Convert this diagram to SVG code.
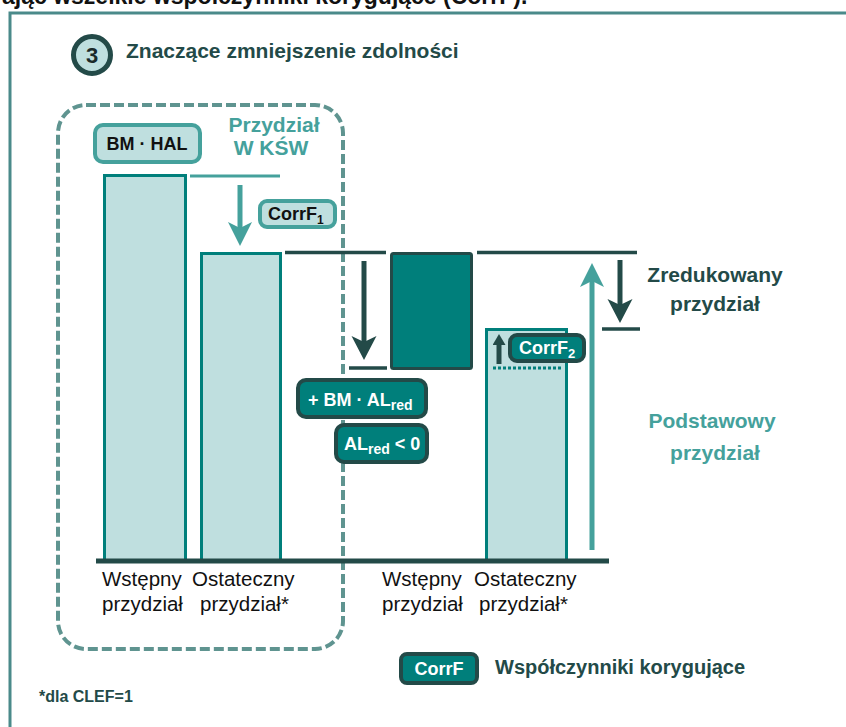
<svg xmlns="http://www.w3.org/2000/svg" width="846" height="727" viewBox="0 0 846 727">
<style>
  text { font-family: "Liberation Sans", Arial, sans-serif; }
  .bold { font-weight: bold; }
  .lbl { font-size: 20.5px; fill: #111111; }
  .bar { fill: #bfdfdf; stroke: #007f7b; stroke-width: 3; }
  .lightbox { fill: #bfdfdf; stroke: #45a19c; stroke-width: 4; }
  .darkbox { fill: #007f7b; stroke: #234a48; stroke-width: 4; }
  .wt { fill: #ffffff; font-weight: bold; font-size: 18px; }
  .kt { fill: #111111; font-weight: bold; font-size: 18px; }
  .darkline { stroke: #234a48; stroke-width: 3.5; fill: none; }
  .tealline { stroke: #45a19c; stroke-width: 3; fill: none; }
  .shaft-dark { stroke: #234a48; stroke-width: 5; fill: none; }
  .shaft-teal { stroke: #45a19c; stroke-width: 5; fill: none; }
  .head-dark { fill: #234a48; }
  .head-teal { fill: #45a19c; }
  .big { font-size: 21px; font-weight: bold; }
</style>
<defs>
  <marker id="mTeal" markerUnits="userSpaceOnUse" markerWidth="26" markerHeight="26" refX="12" refY="12" orient="auto">
    <path class="head-teal" d="M0,0 L24,12 L0,24 L6,12 Z"/>
  </marker>
  <marker id="mDark" markerUnits="userSpaceOnUse" markerWidth="26" markerHeight="26" refX="12" refY="12.5" orient="auto">
    <path class="head-dark" d="M0,0 L24,12.5 L0,25 L6,12.5 Z"/>
  </marker>
  <marker id="mDarkSmall" markerUnits="userSpaceOnUse" markerWidth="14" markerHeight="14" refX="5.5" refY="6.5" orient="auto">
    <path class="head-dark" d="M0,0 L11,6.5 L0,13 Z"/>
  </marker>
</defs>

<rect width="846" height="727" fill="#ffffff"/>

<!-- partially visible caption above frame -->
<text x="2" y="3.5" class="bold" font-size="23" fill="#111111">ając wszelkie współczynniki korygujące (CorrF).</text>

<!-- outer frame -->
<rect x="10" y="13" width="900" height="800" fill="none" stroke="#4a8a8a" stroke-width="3"/>

<!-- title -->
<g id="step3">
  <circle cx="92" cy="55" r="18.5" fill="#bfdfdf" stroke="#234a48" stroke-width="5"/>
  <text x="92" y="63" text-anchor="middle" class="bold" font-size="22" fill="#1a2a2a">3</text>
  <text x="126" y="58" class="big" fill="#234a48">Znaczące zmniejszenie zdolności</text>
</g>

<!-- dashed group box (KŚW) -->
<g id="ksw-region">
  <rect x="58" y="105" width="285" height="544" rx="28" fill="none" stroke="#5f9490" stroke-width="4" stroke-dasharray="10 4"/>
</g>

<!-- bars -->
<g id="bar-wstepny-1"><rect class="bar" x="104.5" y="175.5" width="81" height="386"/></g>
<g id="bar-ostateczny-1"><rect class="bar" x="201.5" y="253.5" width="79" height="308"/></g>
<g id="bar-ostateczny-2">
  <rect class="bar" x="486.5" y="329.5" width="80" height="232" stroke="#2a8f8b"/>
  <line x1="493" y1="368" x2="563" y2="368" stroke="#007f7b" stroke-width="3" stroke-dasharray="3 2"/>
</g>
<g id="reduction-block"><rect x="391.5" y="253.5" width="80" height="115" rx="2" fill="#007f7b" stroke="#234a48" stroke-width="3"/></g>

<!-- connectors -->
<g id="connectors">
  <line class="tealline" x1="190" y1="176" x2="280" y2="176"/>
  <line class="darkline" x1="285" y1="252.5" x2="386" y2="252.5"/>
  <line class="darkline" x1="477" y1="252.5" x2="637" y2="252.5"/>
  <line class="darkline" x1="349" y1="368" x2="387" y2="368"/>
  <line class="darkline" x1="602" y1="329" x2="640" y2="329"/>
  <line class="shaft-teal" x1="240" y1="185" x2="240" y2="234" marker-end="url(#mTeal)"/>
  <line class="shaft-dark" x1="364" y1="261" x2="364" y2="348" marker-end="url(#mDark)"/>
  <line class="shaft-dark" x1="620" y1="260" x2="620" y2="311" marker-end="url(#mDark)"/>
  <line class="shaft-teal" x1="592" y1="550" x2="592" y2="275" marker-end="url(#mTeal)"/>
  <line class="shaft-dark" x1="499" y1="364" x2="499" y2="339.5" stroke-width="4" marker-end="url(#mDarkSmall)"/>
</g>

<!-- axis -->
<g id="axis"><line x1="96" y1="561" x2="609" y2="561" stroke="#234a48" stroke-width="5"/></g>

<!-- labels boxes -->
<g id="bm-hal">
  <rect class="lightbox" x="95" y="125" width="105" height="37" rx="8"/>
  <text x="147" y="150" text-anchor="middle" class="kt">BM · HAL</text>
</g>
<g id="przydzial-ksw">
  <text x="274" y="132" text-anchor="middle" class="big" fill="#45a19c">Przydział</text>
  <text x="271" y="155" text-anchor="middle" class="big" fill="#45a19c">W KŚW</text>
</g>
<g id="corrf1">
  <rect class="lightbox" x="260" y="201" width="75" height="26" rx="7"/>
  <text x="268" y="219.5" class="kt">CorrF<tspan font-size="12" dy="4.5">1</tspan></text>
</g>
<g id="bm-al-red">
  <rect class="darkbox" x="298" y="380" width="128" height="37" rx="8"/>
  <text x="308" y="405.5" class="wt">+ BM · AL<tspan font-size="14" dy="4">red</tspan></text>
</g>
<g id="al-red-lt0">
  <rect class="darkbox" x="336" y="425" width="91" height="37" rx="8"/>
  <text x="344" y="450" class="wt">AL<tspan font-size="14" dy="4">red</tspan><tspan dy="-4"> &lt; 0</tspan></text>
</g>
<g id="corrf2">
  <rect class="darkbox" x="510" y="335" width="74" height="26" rx="7"/>
  <text x="519" y="353.5" class="wt">CorrF<tspan font-size="13" dy="4.5">2</tspan></text>
</g>

<g id="zredukowany">
  <text x="715" y="282" text-anchor="middle" class="big" fill="#234a48">Zredukowany</text>
  <text x="715" y="311" text-anchor="middle" class="big" fill="#234a48">przydział</text>
</g>
<g id="podstawowy">
  <text x="712" y="428" text-anchor="middle" class="big" fill="#45a19c">Podstawowy</text>
  <text x="715" y="460" text-anchor="middle" class="big" fill="#45a19c">przydział</text>
</g>

<!-- axis labels -->
<g id="labels-left">
  <text x="102" y="586" class="lbl">Wstępny</text>
  <text x="102" y="611" class="lbl">przydział</text>
  <text x="192" y="586" class="lbl">Ostateczny</text>
  <text x="200" y="611" class="lbl">przydział*</text>
</g>
<g id="labels-right">
  <text x="382" y="586" class="lbl">Wstępny</text>
  <text x="382" y="611" class="lbl">przydział</text>
  <text x="474" y="586" class="lbl">Ostateczny</text>
  <text x="479" y="611" class="lbl">przydział*</text>
</g>

<g id="legend">
  <rect class="darkbox" x="401" y="654" width="76" height="29" rx="6"/>
  <text x="439" y="675" text-anchor="middle" class="wt">CorrF</text>
  <text x="495" y="674" class="bold" font-size="20" fill="#234a48">Współczynniki korygujące</text>
</g>
<g id="footnote">
  <text x="39" y="702" class="bold" font-size="16" fill="#234a48">*dla CLEF=1</text>
</g>
</svg>
